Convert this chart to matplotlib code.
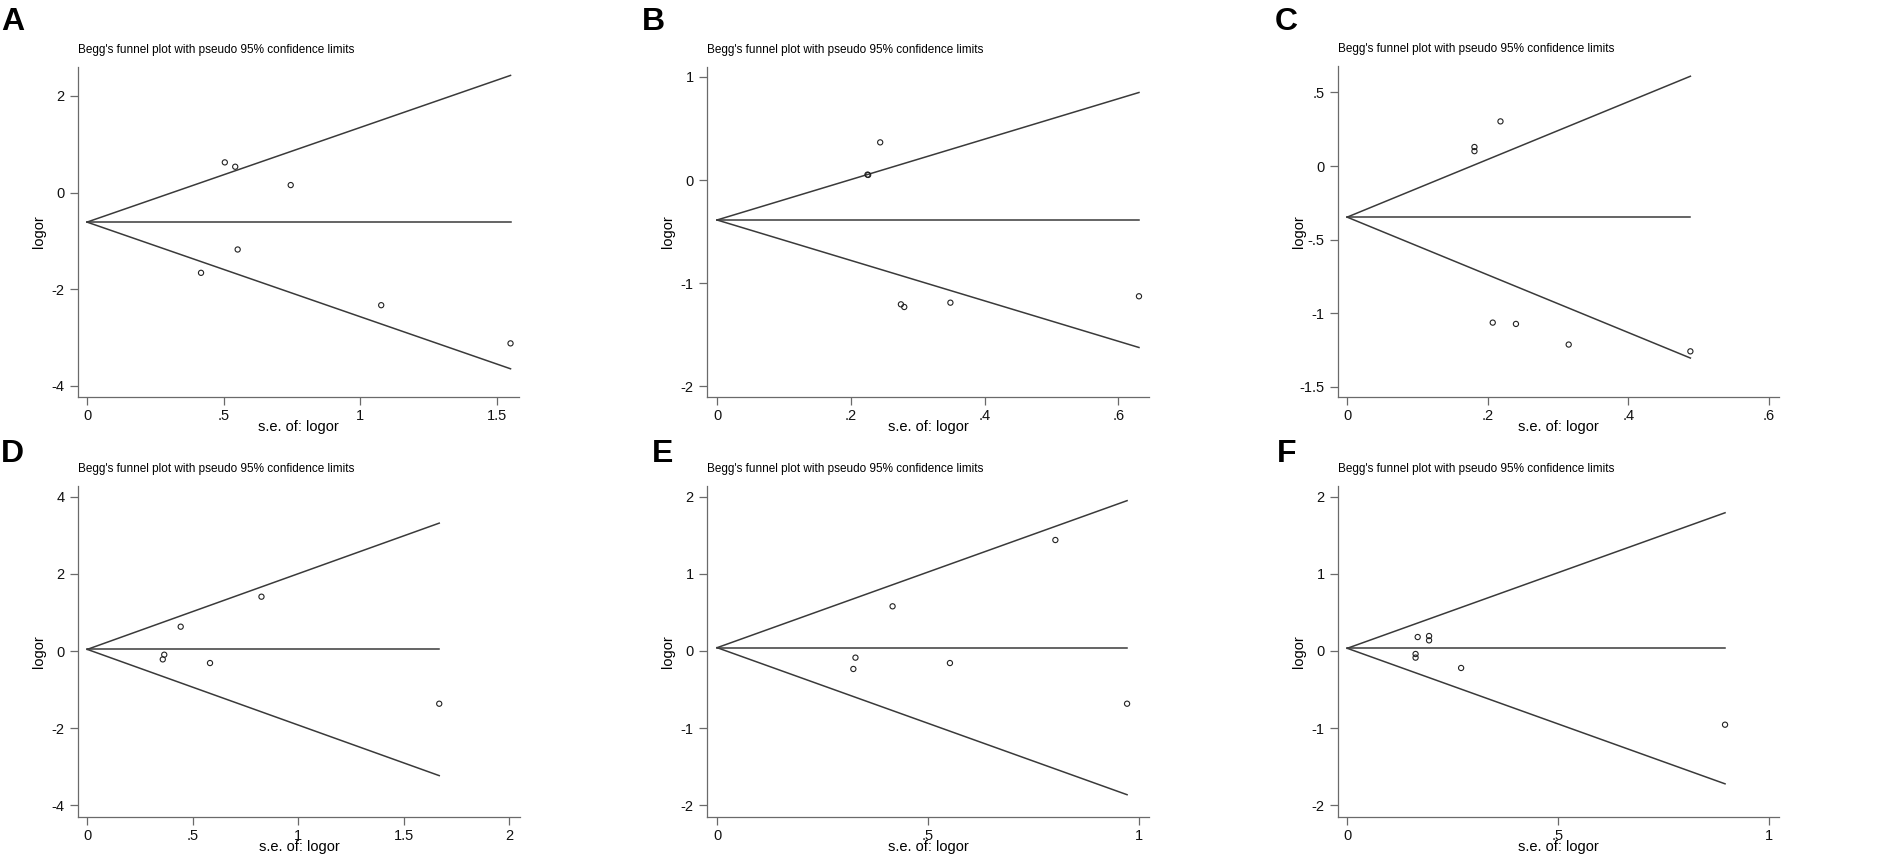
import matplotlib
matplotlib.use("Agg")
import matplotlib.pyplot as plt
from matplotlib import font_manager

# --- data ---
letters = ["A", "B", "C", "D", "E", "F"]

se_A = [0.504, 0.542, 0.745, 0.551, 0.417, 1.076, 1.549]
logor_A = [0.626, 0.536, 0.156, -1.177, -1.66, -2.33, -3.12]
pooled_A = -0.61

se_B = [0.244, 0.225, 0.226, 0.275, 0.280, 0.349, 0.631]
logor_B = [0.366, 0.053, 0.050, -1.205, -1.231, -1.189, -1.127]
pooled_B = -0.387

se_C = [0.218, 0.181, 0.181, 0.207, 0.240, 0.315, 0.488]
logor_C = [0.303, 0.129, 0.101, -1.063, -1.072, -1.212, -1.258]
pooled_C = -0.347

se_D = [0.826, 0.443, 0.365, 0.358, 0.582, 1.669]
logor_D = [1.408, 0.631, -0.095, -0.216, -0.311, -1.365]
pooled_D = 0.043

se_E = [0.802, 0.416, 0.328, 0.323, 0.552, 0.972]
logor_E = [1.438, 0.579, -0.086, -0.233, -0.156, -0.683]
pooled_E = 0.043

se_F = [0.167, 0.194, 0.194, 0.162, 0.162, 0.270, 0.896]
logor_F = [0.181, 0.194, 0.138, -0.039, -0.086, -0.220, -0.955]
pooled_F = 0.035

xticks_A = [0, 0.5, 1, 1.5]
xlabels_A = ["0", ".5", "1", "1.5"]
yticks_A = [-4, -2, 0, 2]
ylabels_A = ["-4", "-2", "0", "2"]

xticks_B = [0, 0.2, 0.4, 0.6]
xlabels_B = ["0", ".2", ".4", ".6"]
yticks_B = [-2, -1, 0, 1]
ylabels_B = ["-2", "-1", "0", "1"]

xticks_C = [0, 0.2, 0.4, 0.6]
xlabels_C = ["0", ".2", ".4", ".6"]
yticks_C = [-1.5, -1, -0.5, 0, 0.5]
ylabels_C = ["-1.5", "-1", "-.5", "0", ".5"]

xticks_D = [0, 0.5, 1, 1.5, 2]
xlabels_D = ["0", ".5", "1", "1.5", "2"]
yticks_D = [-4, -2, 0, 2, 4]
ylabels_D = ["-4", "-2", "0", "2", "4"]

xticks_E = [0, 0.5, 1]
xlabels_E = ["0", ".5", "1"]
yticks_E = [-2, -1, 0, 1, 2]
ylabels_E = ["-2", "-1", "0", "1", "2"]

xticks_F = [0, 0.5, 1]
xlabels_F = ["0", ".5", "1"]
yticks_F = [-2, -1, 0, 1, 2]
ylabels_F = ["-2", "-1", "0", "1", "2"]

title = "Begg's funnel plot with pseudo 95% confidence limits"
xlab = "s.e. of: logor"
ylab = "logor"

panels = [
    (se_A, logor_A, pooled_A, xticks_A, xlabels_A, yticks_A, ylabels_A),
    (se_B, logor_B, pooled_B, xticks_B, xlabels_B, yticks_B, ylabels_B),
    (se_C, logor_C, pooled_C, xticks_C, xlabels_C, yticks_C, ylabels_C),
    (se_D, logor_D, pooled_D, xticks_D, xlabels_D, yticks_D, ylabels_D),
    (se_E, logor_E, pooled_E, xticks_E, xlabels_E, yticks_E, ylabels_E),
    (se_F, logor_F, pooled_F, xticks_F, xlabels_F, yticks_F, ylabels_F),
]

# axis limits, per panel
limits = [
    ((-0.033, 1.58), (-4.23, 2.6)),
    ((-0.015, 0.646), (-2.104, 1.097)),
    ((-0.013, 0.614), (-1.568, 0.679)),
    ((-0.044, 2.052), (-4.30, 4.276)),
    ((-0.024, 1.024), (-2.151, 2.138)),
    ((-0.022, 1.024), (-2.151, 2.138)),
]

# axes boxes in pixels: left, top, right, bottom
W, H = 1902, 859
boxes = [
    (78, 67, 519, 397), (707, 67, 1149, 397), (1338, 66, 1779, 397),
    (78, 486, 520, 817), (707, 486, 1149, 817), (1338, 486, 1779, 817),
]
letter_xy = [(1, 30), (642, 30), (1275, 30), (1, 462), (652, 462), (1277, 462)]

names = set(f.name for f in font_manager.fontManager.ttflist)
if "Liberation Sans Narrow" in names:
    txt_font = ["Liberation Sans Narrow", "DejaVu Sans"]
    title_size = 10
else:
    txt_font = ["Liberation Sans", "DejaVu Sans"]
    title_size = 8.5
plt.rcParams["font.family"] = ["Liberation Sans", "DejaVu Sans"]

fig = plt.figure(figsize=(W / 100, H / 100), dpi=100)
line_col = "#3a3a3a"
axis_col = "#6a6a6a"

for i, (se, lo, pooled, xt, xl, yt, yl) in enumerate(panels):
    l, t, r, b = boxes[i]
    ax = fig.add_axes([l / W, 1 - b / H, (r - l) / W, (b - t) / H])
    smax = max(se)
    ax.plot([0, smax], [pooled, pooled + 1.96 * smax], color=line_col, lw=1.1)
    ax.plot([0, smax], [pooled, pooled - 1.96 * smax], color=line_col, lw=1.1)
    ax.plot([0, smax], [pooled, pooled], color=line_col, lw=1.1)
    ax.scatter(se, lo, s=14, facecolors="none", edgecolors="#222222", linewidths=0.8, zorder=3)

    ax.set_xlim(*limits[i][0])
    ax.set_ylim(*limits[i][1])
    ax.set_xticks(xt)
    ax.set_xticklabels(xl)
    ax.set_yticks(yt)
    ax.set_yticklabels(yl)
    ax.tick_params(direction="out", length=6, width=0.9, color=axis_col,
                   labelsize=10.5, labelcolor="#111111")
    ax.tick_params(axis="x", pad=3)
    ax.tick_params(axis="y", pad=3.5)
    for s in ["top", "right"]:
        ax.spines[s].set_visible(False)
    for s in ["left", "bottom"]:
        ax.spines[s].set_color(axis_col)
        ax.spines[s].set_linewidth(0.9)

    fig.text((l + r) / 2 / W, 1 - (b + 30) / H, xlab, fontsize=10.5,
             ha="center", va="center")
    fig.text((l - 39) / W, 1 - (t + b) / 2 / H, ylab, fontsize=10.5,
             ha="center", va="center", rotation=90)
    fig.text(l / W, 1 - (t - 14) / H, title, fontsize=title_size,
             family=txt_font, ha="left", va="baseline")
    lx, ly = letter_xy[i]
    fig.text(lx / W, 1 - ly / H, letters[i], fontsize=23, fontweight="bold",
             ha="left", va="baseline")

fig.savefig("out.png", dpi=100, facecolor="white")
